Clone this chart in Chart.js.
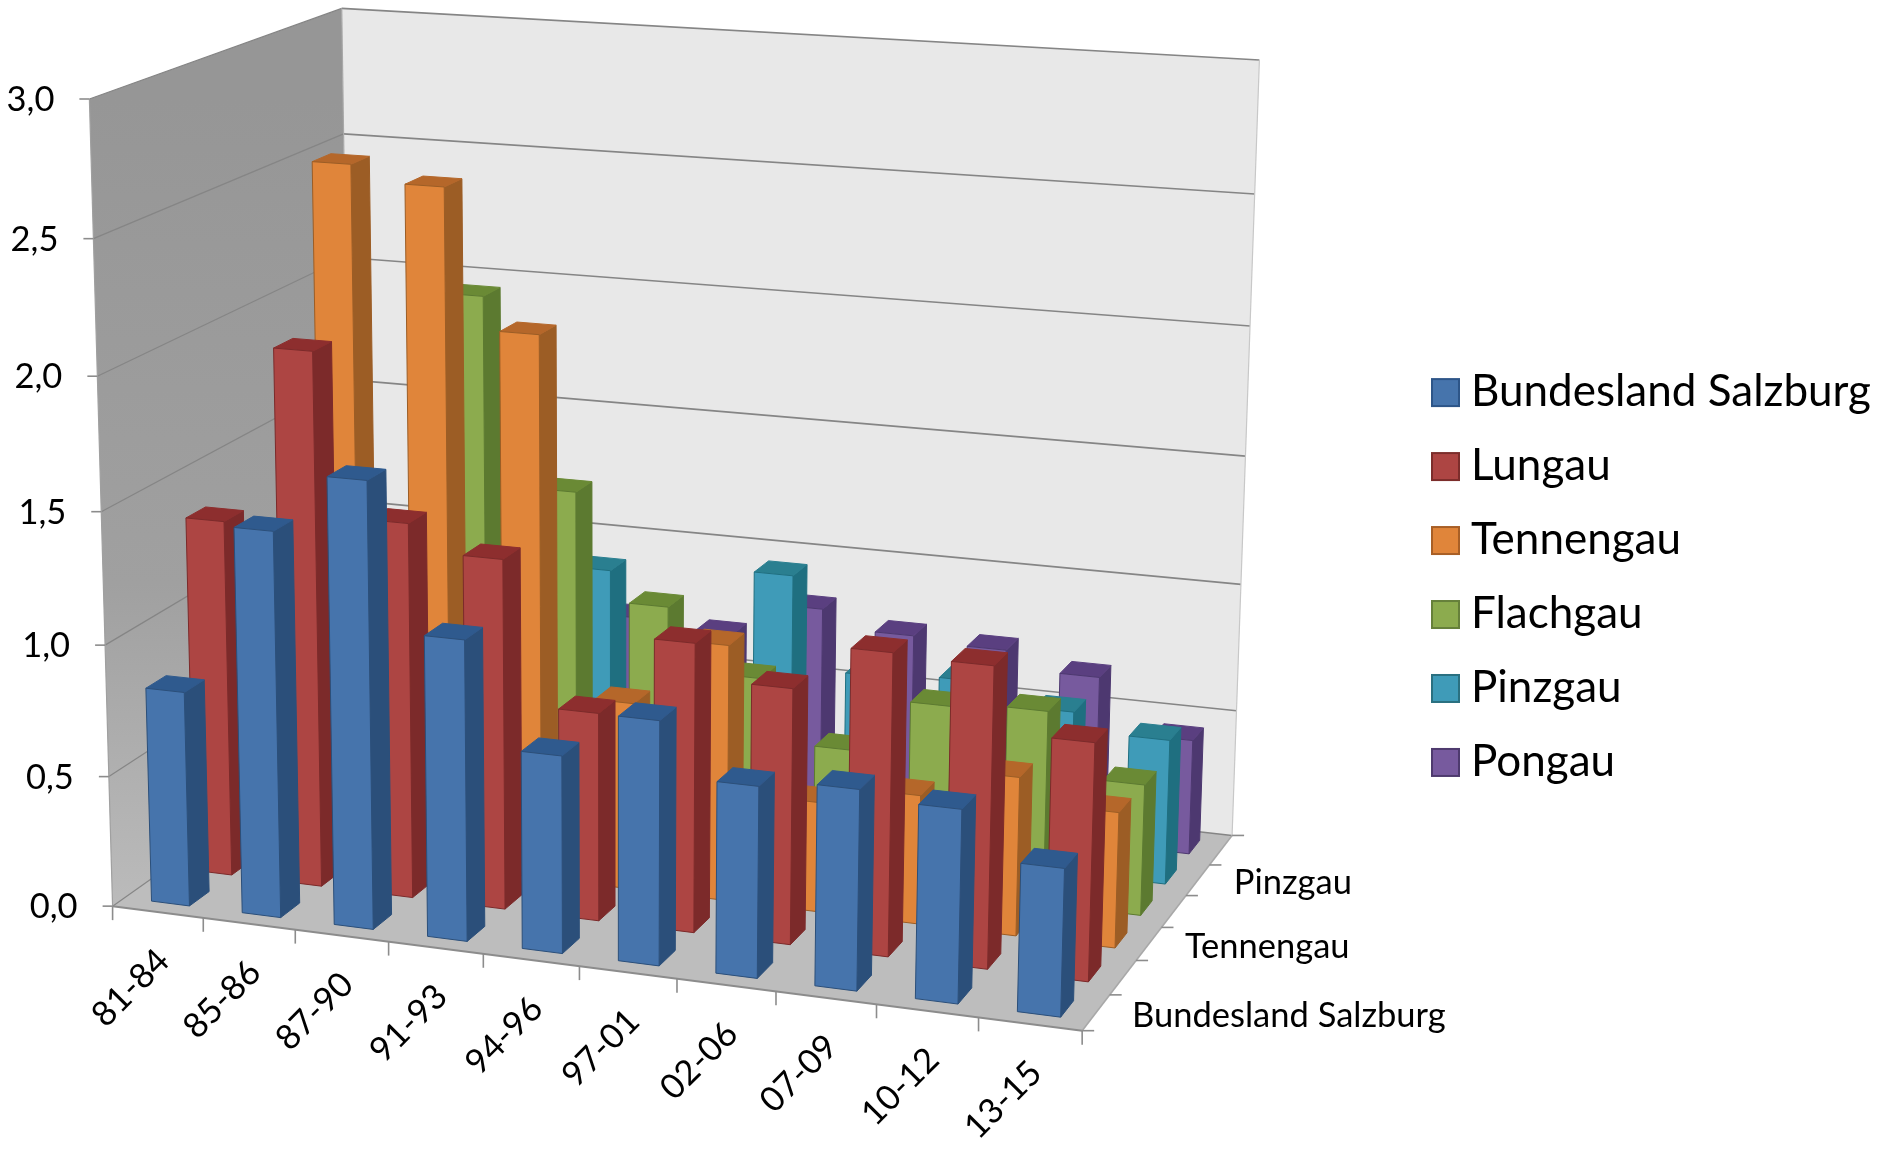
<!DOCTYPE html>
<html><head><meta charset="utf-8">
<style>html,body{margin:0;padding:0;background:#fff}canvas{display:block}</style>
<script src="https://cdn.jsdelivr.net/npm/chart.js@4/dist/chart.umd.js"></script>
</head><body><canvas id="c" width="1883" height="1153"></canvas>
<script>
const categories = ['81-84','85-86','87-90','91-93','94-96','97-01','02-06','07-09','10-12','13-15'];
const bundesland = [0.82,1.46,1.68,1.13,0.74,0.91,0.71,0.74,0.71,0.54];
const lungau     = [1.37,2.04,1.43,1.33,0.79,1.09,0.96,1.13,1.12,0.88];
const tennengau  = [0.85,2.66,2.60,2.08,0.72,0.98,0.42,0.49,0.60,0.51];
const flachgau   = [0.75,0.90,2.12,1.40,0.99,0.75,0.51,0.72,0.74,0.50];
const pinzgau    = [0.60,0.70,0.80,1.00,0.55,1.05,0.69,0.71,0.63,0.56];
const pongau     = [0.55,0.55,0.65,0.71,0.68,0.82,0.75,0.73,0.66,0.45];
const seriesNames = ['Bundesland Salzburg','Lungau','Tennengau','Flachgau','Pinzgau','Pongau'];
const seriesValues = [bundesland,lungau,tennengau,flachgau,pinzgau,pongau];
const frontColors = ['#4674AC','#AD4543','#E0853A','#8CAB4E','#3F9BB8','#775A9E'];
const sideColors  = ['#2B4F7A','#7C2A2A','#9C5D25','#5C7A30','#1F6F80','#4D3870'];
const topColors   = ['#2F5A8E','#8D2E2E','#B5672A','#6A8A35','#2A7F90','#5A3F80'];
const legendBorder= ['#2D5588','#7C2D2B','#A85F26','#66803A','#2A7080','#4E3A6E'];
const depthTickLabels = [[0,30],[2,30],[4,30]];

/* camera fit: wall corners of the 3D box (u, w, v) -> picture position */
const S = 1883/1568;
const cameraAnchors = [
 [0,0,0,95.8,755],[0,0,1,72,83],[0,0,.5,85,425.7],[0,0,5/6,77.8,197.8],
 [0,1,1,285.6,6.5],[0,1,5/6,288,112.4],[0,1,.5,288.5,316],[0,1,0,291,613],
 [1,1,1,1048,50],[1,1,0,1026.4,695],[1,1,1/3,1034,487],[1,0,0,900.7,858.6]
];
function solveCamera(pts){
  const n=11, A=Array.from({length:n},()=>new Array(n+1).fill(0));
  const add=(r,b)=>{for(let i=0;i<n;i++){for(let j=0;j<n;j++)A[i][j]+=r[i]*r[j];A[i][n]+=r[i]*b;}};
  pts.forEach(([u,w,v,x,y])=>{
    x*=S;y*=S;
    add([u,w,v,1,0,0,0,0,-x*u,-x*w,-x*v],x);
    add([0,0,0,0,u,w,v,1,-y*u,-y*w,-y*v],y);
  });
  for(let i=0;i<n;i++){
    let p=i;for(let k=i+1;k<n;k++)if(Math.abs(A[k][i])>Math.abs(A[p][i]))p=k;
    [A[i],A[p]]=[A[p],A[i]];
    for(let k=0;k<n;k++){if(k===i)continue;const f=A[k][i]/A[i][i];for(let j=i;j<=n;j++)A[k][j]-=f*A[i][j];}
  }
  return A.map((r,i)=>r[n]/r[i]);
}
const P = solveCamera(cameraAnchors);
function proj(u,w,v){
  const d=P[8]*u+P[9]*w+P[10]*v+1;
  return [(P[0]*u+P[1]*w+P[2]*v+P[3])/d,(P[4]*u+P[5]*w+P[6]*v+P[7])/d];
}
function poly(ctx,pts,fill,stroke,lw){
  ctx.beginPath();pts.forEach((p,i)=>i?ctx.lineTo(p[0],p[1]):ctx.moveTo(p[0],p[1]));ctx.closePath();
  if(fill){ctx.fillStyle=fill;ctx.fill();}
  if(stroke){ctx.strokeStyle=stroke;ctx.lineWidth=lw||1;ctx.stroke();}
}
function seg(ctx,a,b,c,lw){ctx.beginPath();ctx.moveTo(a[0],a[1]);ctx.lineTo(b[0],b[1]);ctx.strokeStyle=c;ctx.lineWidth=lw;ctx.stroke();}

const rowCount = seriesNames.length, BAR_DEPTH = 0.46;
class Box3D extends Chart.BarElement {
  draw(ctx){
    const a=this._chart.chartArea, ds=this._ds;
    const u=(this.x-a.left)/a.width+0.001, hw=this.width/a.width/2;
    const top=(a.bottom-this.y)/a.height, base=(a.bottom-this.base)/a.height;
    const wc=(ds+.5)/rowCount, hd=BAR_DEPTH/rowCount/2;
    const u0=u-hw,u1=u+hw,w0=wc-hd,w1=wc+hd;
    ctx.save();ctx.lineJoin='round';
    poly(ctx,[proj(u1,w0,base),proj(u1,w1,base),proj(u1,w1,top),proj(u1,w0,top)],sideColors[ds],sideColors[ds],1);
    poly(ctx,[proj(u0,w0,top),proj(u1,w0,top),proj(u1,w1,top),proj(u0,w1,top)],topColors[ds],topColors[ds],1);
    poly(ctx,[proj(u0,w0,base),proj(u1,w0,base),proj(u1,w0,top),proj(u0,w0,top)],frontColors[ds],sideColors[ds],1);
    ctx.restore();
  }
}
Box3D.id='box3dBar'; Box3D.defaults=Chart.BarElement.defaults;
class Box3DController extends Chart.BarController {
  draw(){
    this._cachedMeta.data.forEach(el=>{el._ds=this.index;el._chart=this.chart;});
    super.draw();
  }
}
Box3DController.id='box3d';
Box3DController.defaults={...Chart.BarController.defaults,dataElementType:'box3dBar'};
Box3DController.overrides=Chart.BarController.overrides;
Chart.register(Box3D,Box3DController);

const FONT='Lato, Carlito, sans-serif';
const box3dAxes={id:'box3dAxes',
  beforeDatasetsDraw(chart){
    const ctx=chart.ctx, yS=chart.scales.y, a=chart.chartArea;
    const vOf=t=>(a.bottom-yS.getPixelForValue(t))/a.height;
    ctx.save();
    const lA=proj(0,0,1),lB=proj(0,1,1),lC=proj(0,1,0),lD=proj(0,0,0);
    const g=ctx.createLinearGradient(0,lA[1],0,lD[1]);
    g.addColorStop(0,'#969696');g.addColorStop(.6,'#A0A0A0');g.addColorStop(1,'#BBBBBB');
    poly(ctx,[lA,lB,lC,lD],g);
    poly(ctx,[proj(0,1,1),proj(1,1,1),proj(1,1,0),proj(0,1,0)],'#E8E8E8');
    poly(ctx,[proj(0,0,0),proj(1,0,0),proj(1,1,0),proj(0,1,0)],'#BDBDBD');
    yS.ticks.forEach(t=>{
      const v=vOf(t.value);
      seg(ctx,proj(0,0,v),proj(0,1,v),'#858585',1.2);
      seg(ctx,proj(0,1,v),proj(1,1,v),'#858585',1.6);
    });
    seg(ctx,proj(0,1,0),proj(0,1,1),'#A8A8A8',1.2);
    seg(ctx,proj(1,1,0),proj(1,1,1),'#C8C8C8',1.2);
    seg(ctx,proj(0,0,0),proj(0,0,1),'#A0A0A0',1.2);
    // axis lines and tick marks
    seg(ctx,proj(0,0,0),proj(1,0,0),'#8C8C8C',2);
    seg(ctx,proj(1,0,0),proj(1,1,0),'#A8A8A8',1.6);
    yS.ticks.forEach(t=>{const p=proj(0,0,vOf(t.value));seg(ctx,[p[0]-10,p[1]],p,'#8C8C8C',1.6);});
    for(let i=0;i<=categories.length;i++){const p=proj(i/categories.length,0,0);seg(ctx,p,[p[0],p[1]+14],'#8C8C8C',1.6);}
    for(let j=0;j<=rowCount;j++){const p=proj(1,j/rowCount,0);seg(ctx,p,[p[0]+12,p[1]],'#8C8C8C',1.6);}
    ctx.restore();
  },
  afterDraw(chart){
    const ctx=chart.ctx, yS=chart.scales.y, xS=chart.scales.x, a=chart.chartArea;
    ctx.save();ctx.fillStyle='#000';
    ctx.font='34.5px '+FONT;ctx.textAlign='right';ctx.textBaseline='middle';
    yS.ticks.forEach(t=>{
      const p=proj(0,0,(a.bottom-yS.getPixelForValue(t.value))/a.height);
      ctx.fillText(t.value.toFixed(1).replace('.',','),p[0]-35,p[1]+1);
    });
    ctx.textAlign='center';
    xS.getLabels().forEach((lab,i)=>{
      const p=proj((xS.getPixelForValue(i)-a.left)/a.width,0,0);
      ctx.save();ctx.translate(p[0]-27,p[1]+76);ctx.rotate(-Math.PI/4);ctx.fillText(lab,0,0);ctx.restore();
    });
    ctx.textAlign='left';
    depthTickLabels.forEach(([j,off])=>{
      const p=proj(1,(j+.5)/rowCount,0);
      ctx.fillText(seriesNames[j],p[0]+off*S,p[1]+3);
    });
    // legend
    ctx.font='44px '+FONT;
    seriesNames.forEach((n,j)=>{
      const y=(326.5+j*61.6)*S;
      ctx.fillStyle=frontColors[j];ctx.strokeStyle=legendBorder[j];ctx.lineWidth=2;
      ctx.fillRect(1432,y-13,27,27);ctx.strokeRect(1432,y-13,27,27);
      ctx.fillStyle='#000';ctx.fillText(n,1471,y);
    });
    ctx.restore();
  }
};
new Chart(document.getElementById('c'),{
  type:'box3d',
  data:{labels:categories,datasets:seriesValues.map((d,j)=>({label:seriesNames[j],data:d}))},
  options:{
    responsive:false,animation:false,devicePixelRatio:1,
    datasets:{box3d:{grouped:false,categoryPercentage:1,barPercentage:.42}},
    layout:{padding:0},
    scales:{
      x:{type:'category',offset:true,display:false},
      y:{type:'linear',min:0,max:3,display:false,ticks:{stepSize:.5}}
    },
    plugins:{legend:{display:false},tooltip:{enabled:false}}
  },
  plugins:[box3dAxes]
});
</script></body></html>
